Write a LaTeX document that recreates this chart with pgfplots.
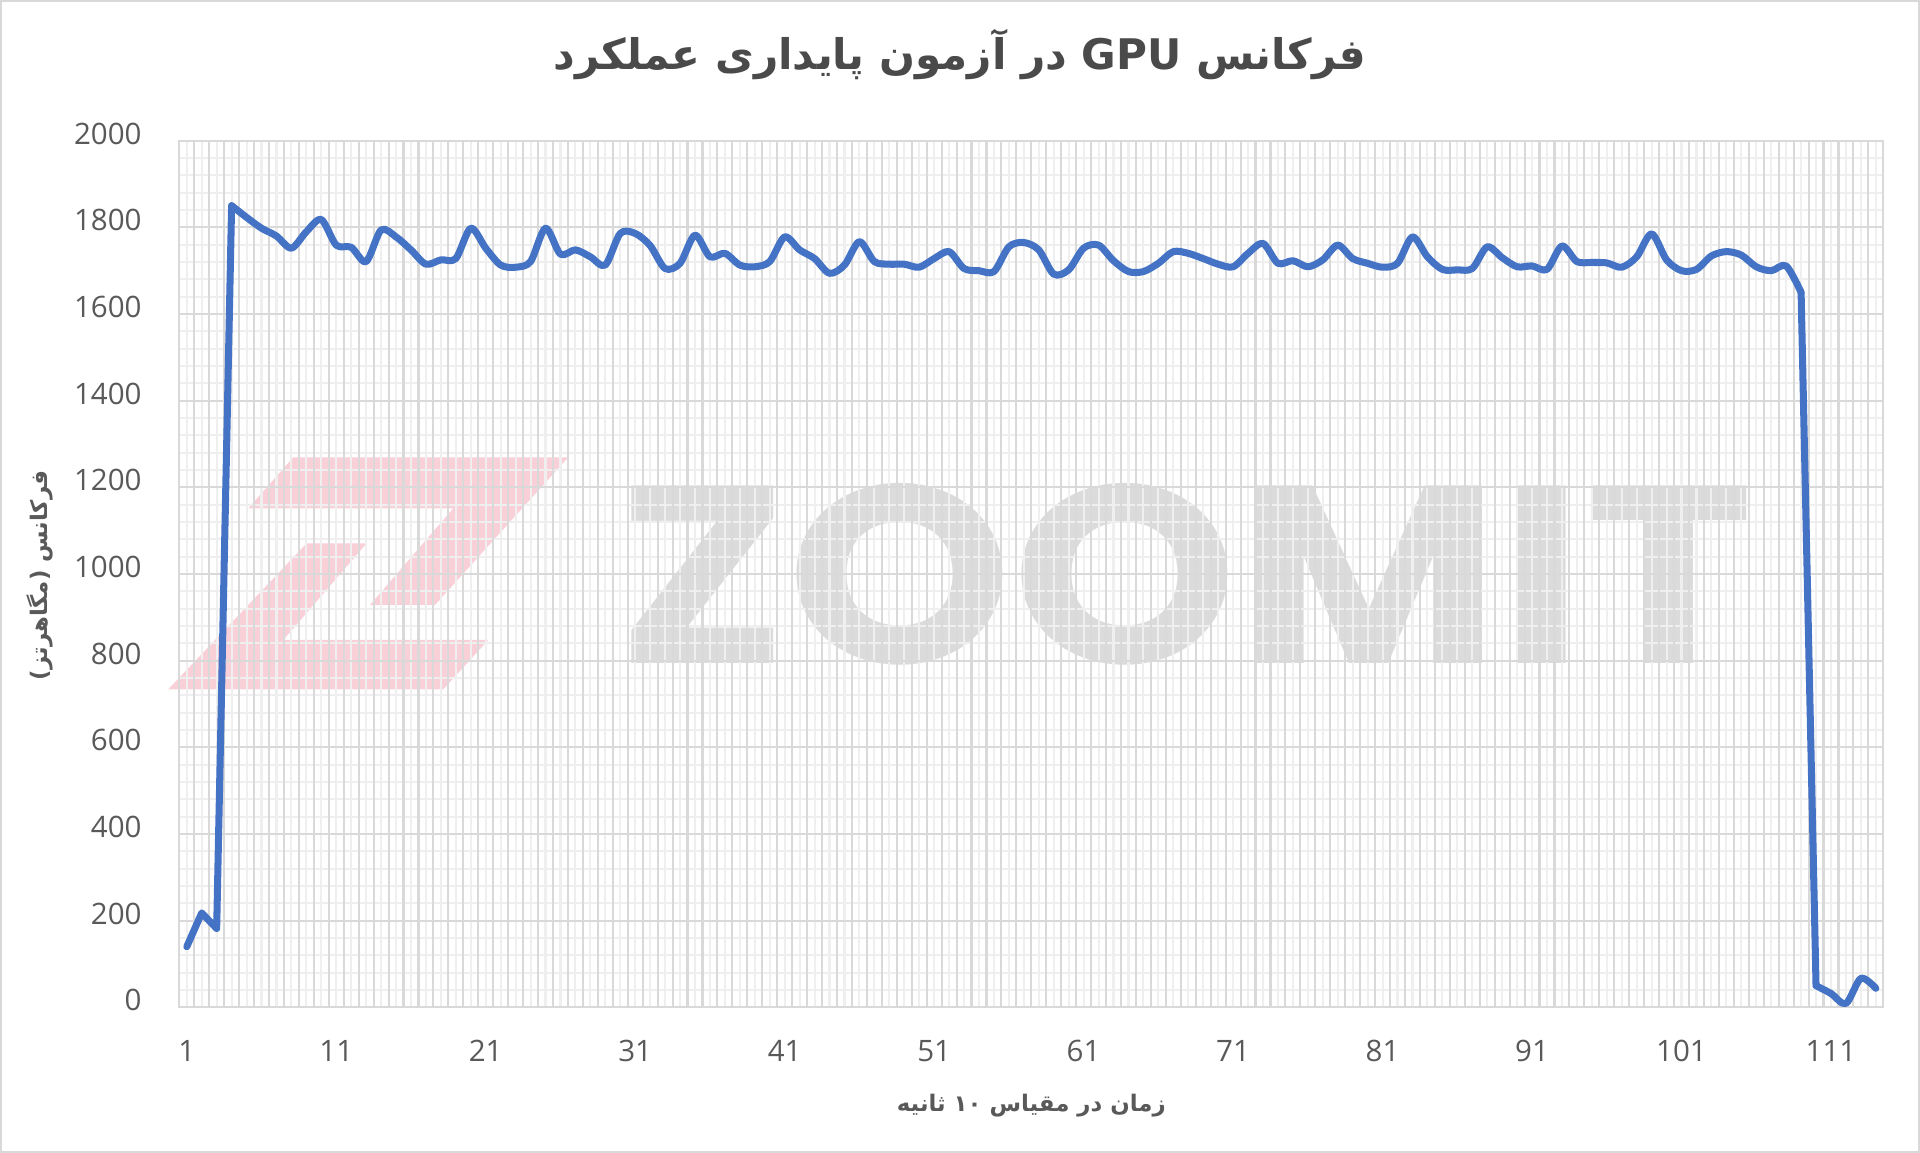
\documentclass[border=0pt]{standalone}
\usepackage{pgfplots}
\pgfplotsset{compat=1.18}
\usepackage{fontspec}
\setmainfont{Open Sans}
\newfontfamily\arabicfont[Script=Arabic]{DejaVu Sans}
\newfontfamily\logofont{Poppins}
\TeXXeTstate=1
\definecolor{lineblue}{HTML}{4472C4}
\definecolor{txtgray}{HTML}{595959}
\definecolor{titlegray}{HTML}{4A4A4A}
\definecolor{gridmajor}{HTML}{D9D9D9}
\definecolor{gridminor}{HTML}{EFEFEF}
\definecolor{zpink}{HTML}{F07890}
\pgfplotstableread{
x y
1 140
2 218
3 182
4 1850
5 1823
6 1798
7 1780
8 1752
9 1790
10 1818
11 1759
12 1754
13 1721
14 1794
15 1778
16 1748
17 1715
18 1725
19 1728
20 1798
21 1752
22 1713
23 1708
24 1721
25 1798
26 1738
27 1748
28 1732
29 1713
30 1786
31 1786
32 1758
33 1705
34 1717
35 1782
36 1732
37 1740
38 1713
39 1709
40 1721
41 1778
42 1748
43 1728
44 1694
45 1713
46 1767
47 1721
48 1715
49 1715
50 1708
51 1728
52 1744
53 1705
54 1700
55 1698
56 1755
57 1765
58 1748
59 1692
60 1702
61 1752
62 1759
63 1723
64 1698
65 1698
66 1717
67 1744
68 1740
69 1728
70 1715
71 1709
72 1740
73 1763
74 1717
75 1723
76 1709
77 1725
78 1759
79 1728
80 1717
81 1708
82 1717
83 1778
84 1732
85 1703
86 1702
87 1705
88 1755
89 1730
90 1709
91 1711
92 1703
93 1757
94 1721
95 1719
96 1718
97 1708
98 1732
99 1785
100 1725
101 1700
102 1703
103 1734
104 1744
105 1736
106 1709
107 1700
108 1711
109 1650
110 50
111 32
112 9
113 67
114 44
}\freq
\begin{document}
\begin{tikzpicture}
% watermark (behind the axis)
\fill[zpink, fill opacity=0.35] (1.140,5.501) -- (3.890,5.501) -- (2.557,4.024) -- (1.907,4.024) -- (2.740,4.991) -- (0.690,4.991) -- cycle;
\fill[zpink, fill opacity=0.35] (1.274,4.641) -- (1.874,4.641) -- (1.040,3.674) -- (3.090,3.674) -- (2.640,3.181) -- (-0.110,3.181) -- cycle;
\node[text=black!35, opacity=0.4, inner sep=0, font=\logofont\bfseries\fontsize{72}{72}\selectfont, xscale=1.13] at (10.06,4.33) {ZOOMIT};
\begin{axis}[
  at={(0,0)}, anchor=south west,
  scale only axis,
  width=17.04cm, height=8.667cm,
  xmin=0.5, xmax=114.5, ymin=0, ymax=2000,
  xtick={1,11,...,111},
  ytick={0,200,...,2000},
  minor xtick={1,2,...,114},
  minor y tick num=4,
  xmajorgrids=false, xminorgrids=true,
  ymajorgrids=true, yminorgrids=true,
  major grid style={draw=gridmajor, line width=0.6pt},
  minor grid style={draw=gridminor, line width=0.6pt},
  extra x ticks={0.5,1.5,...,114.5},
  extra x tick labels={},
  extra x tick style={xmajorgrids=true, major grid style={draw=gridmajor, line width=0.6pt}, major tick length=0pt},
  axis line style={draw=gridmajor, line width=0.6pt},
  tick style={draw=none},
  major tick length=0pt, minor tick length=0pt,
  /pgf/number format/assume math mode=true,
  /pgf/number format/1000 sep={},
  ticklabel style={font=\fontsize{8.4}{10}\selectfont, text=txtgray, inner sep=0pt},
  xticklabel style={anchor=center, yshift=-0.436cm},
  yticklabel style={anchor=east, xshift=-0.37cm, yshift=0.07cm},
  every axis plot/.append style={lineblue, line width=2pt, line join=round, line cap=round},
]
\addplot[restrict x to domain=1:4] table[x=x, y=y] {\freq};
\addplot[smooth, tension=0.5, restrict x to domain=4:109] table[x=x, y=y] {\freq};
\addplot[restrict x to domain=109:110] table[x=x, y=y] {\freq};
\addplot[smooth, tension=0.5, restrict x to domain=110:114] table[x=x, y=y] {\freq};
\end{axis}
\node[text=titlegray, font=\arabicfont\bfseries\fontsize{12}{14}\selectfont] at (7.807,9.524) {\beginR فرکانس \beginL GPU\endL{} در آزمون پایداری عملکرد\endR};
\node[text=txtgray, font=\arabicfont\bfseries\fontsize{6.5}{8}\selectfont] at (8.52,-0.986) {\beginR زمان در مقیاس ۱۰ ثانیه\endR};
\node[text=txtgray, rotate=90, font=\arabicfont\bfseries\fontsize{6.5}{8}\selectfont] at (-1.393,4.32) {\beginR فرکانس (مگاهرتز)\endR};
\pgfresetboundingbox
\path[use as bounding box] (-1.793,-1.456) rectangle (17.407,10.074);
\draw[gridmajor, line width=0.8pt] (-1.783,-1.446) rectangle (17.397,10.064);
\end{tikzpicture}
\end{document}
